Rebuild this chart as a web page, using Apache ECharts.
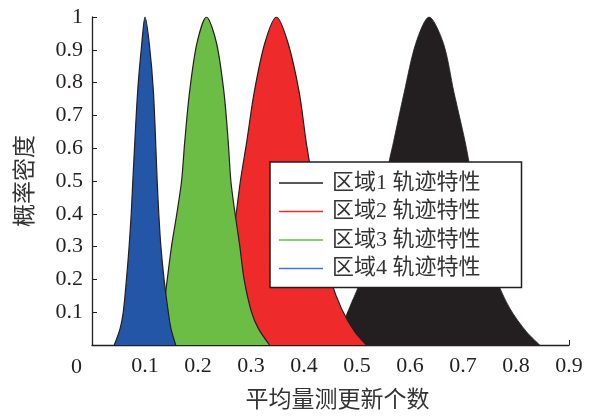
<!DOCTYPE html>
<html>
<head>
<meta charset="utf-8">
<title>概率密度</title>
<script src="https://cdn.jsdelivr.net/npm/echarts@6/dist/echarts.min.js"></script>
<style>
  html, body { margin: 0; padding: 0; background: #fff; }
  #chart { width: 595px; height: 417px; }
</style>
</head>
<body>
<div id="chart"></div>
<script>
// values (x = 平均量测更新个数, y = 概率密度)
const seriesNames = ['区域1 轨迹特性', '区域2 轨迹特性', '区域3 轨迹特性', '区域4 轨迹特性']

const region1X = [0.440, 0.465, 0.477, 0.490, 0.503, 0.525, 0.540, 0.553, 0.562, 0.569, 0.589, 0.611, 0.636, 0.663, 0.683, 0.704, 0.718, 0.731, 0.745, 0.763, 0.789, 0.820, 0.845]
const region1Y = [0, 0.04, 0.08, 0.13, 0.18, 0.30, 0.40, 0.50, 0.57, 0.62, 0.77, 0.92, 1.00, 0.92, 0.77, 0.62, 0.50, 0.40, 0.30, 0.20, 0.11, 0.04, 0]

const region2X = [0.220, 0.240, 0.255, 0.263, 0.272, 0.280, 0.292, 0.306, 0.326, 0.348, 0.370, 0.391, 0.404, 0.416, 0.424, 0.435, 0.450, 0.471, 0.496, 0.518]
const region2Y = [0, 0.10, 0.20, 0.30, 0.40, 0.50, 0.62, 0.77, 0.92, 1.00, 0.92, 0.77, 0.62, 0.50, 0.40, 0.30, 0.20, 0.11, 0.04, 0]

const region3X = [0.115, 0.125, 0.134, 0.142, 0.150, 0.160, 0.169, 0.175, 0.184, 0.198, 0.216, 0.235, 0.249, 0.257, 0.262, 0.270, 0.279, 0.287, 0.301, 0.314, 0.335]
const region3Y = [0, 0.03, 0.10, 0.20, 0.30, 0.40, 0.50, 0.62, 0.77, 0.92, 1.00, 0.92, 0.77, 0.62, 0.50, 0.40, 0.30, 0.20, 0.10, 0.05, 0]

const region4X = [0.042, 0.053, 0.059, 0.065, 0.070, 0.074, 0.077, 0.086, 0.094, 0.100, 0.108, 0.116, 0.123, 0.126, 0.130, 0.136, 0.144, 0.149, 0.158]
const region4Y = [0, 0.05, 0.10, 0.20, 0.30, 0.40, 0.50, 0.77, 0.92, 1.00, 0.92, 0.77, 0.50, 0.40, 0.30, 0.20, 0.10, 0.05, 0]

const xTicks = [0, 0.1, 0.2, 0.3, 0.4, 0.5, 0.6, 0.7, 0.8, 0.9]
const yTicks = [0, 0.1, 0.2, 0.3, 0.4, 0.5, 0.6, 0.7, 0.8, 0.9, 1]

const fillColors = ['#231f20', '#ee2a2b', '#6cbd45', '#2356a6']
const legendColors = ['#231f20', '#ee2a2b', '#6cbd45', '#4a78c2']
const ink = '#231f20'
const font = "'Liberation Serif', 'Noto Sans CJK SC', serif"

function pairs(xs, ys) {
  return xs.map((x, i) => [x, ys[i]])
}

const curves = [
  pairs(region1X, region1Y),
  pairs(region2X, region2Y),
  pairs(region3X, region3Y),
  pairs(region4X, region4Y)
]

function tickText(v) {
  if (v === 0) return '' // the shared "0" sits at the corner
  return String(+v.toFixed(1))
}

const chart = echarts.init(document.getElementById('chart'), null, { renderer: 'canvas' })

const option = {
  animation: false,
  backgroundColor: '#fff',
  textStyle: { fontFamily: font },
  grid: {
    left: 92,
    right: 26,
    top: 17,
    bottom: 70,
    containLabel: false
  },
  legend: {
    orient: 'vertical',
    left: 270,
    top: 162,
    padding: [8, 41, 6, 9],
    itemGap: 2.5,
    itemWidth: 44,
    itemHeight: 1.6,
    backgroundColor: '#fff',
    borderColor: ink,
    borderWidth: 1.5,
    borderRadius: 0,
    textStyle: {
      fontFamily: font,
      fontSize: 22,
      lineHeight: 26,
      color: '#333',
      padding: [0, 0, 0, 4]
    },
    data: seriesNames.map((name, i) => ({
      name,
      icon: 'rect',
      itemStyle: { color: legendColors[i], borderWidth: 0 }
    }))
  },
  xAxis: {
    type: 'value',
    min: xTicks[0],
    max: xTicks[xTicks.length - 1],
    interval: 0.1,
    name: '平均量测更新个数',
    nameLocation: 'middle',
    nameGap: 44,
    nameTextStyle: {
      fontFamily: font,
      fontSize: 23,
      color: '#333',
      padding: [0, 0, 0, 14]
    },
    axisLine: { show: true, lineStyle: { color: ink, width: 1.3 } },
    axisTick: { show: true, inside: true, length: 5, lineStyle: { color: ink, width: 1 } },
    axisLabel: {
      fontFamily: font,
      fontSize: 22,
      color: ink,
      margin: 10,
      formatter: tickText
    },
    splitLine: { show: false }
  },
  yAxis: {
    type: 'value',
    min: yTicks[0],
    max: yTicks[yTicks.length - 1],
    interval: 0.1,
    name: '概率密度',
    nameLocation: 'middle',
    nameGap: 55,
    nameTextStyle: {
      fontFamily: font,
      fontSize: 23,
      color: '#333'
    },
    axisLine: { show: true, lineStyle: { color: ink, width: 1.3 } },
    axisTick: { show: true, inside: true, length: 5, lineStyle: { color: ink, width: 1 } },
    axisLabel: {
      fontFamily: font,
      fontSize: 22,
      color: ink,
      margin: 9,
      formatter: tickText
    },
    splitLine: { show: false }
  },
  graphic: [
    {
      type: 'text',
      left: 71,
      top: 356,
      style: {
        text: '0',
        fontFamily: font,
        fontSize: 22,
        fill: ink
      }
    }
  ],
  series: curves.map((data, i) => ({
    name: seriesNames[i],
    type: 'line',
    data,
    smooth: 0.3,
    symbol: 'none',
    z: 2 + i,
    itemStyle: { color: legendColors[i] },
    lineStyle: { color: ink, width: i === 0 ? 0.8 : 1.2 },
    areaStyle: { color: fillColors[i], opacity: 1 },
    emphasis: { disabled: true }
  }))
}

chart.setOption(option)
</script>
</body>
</html>
